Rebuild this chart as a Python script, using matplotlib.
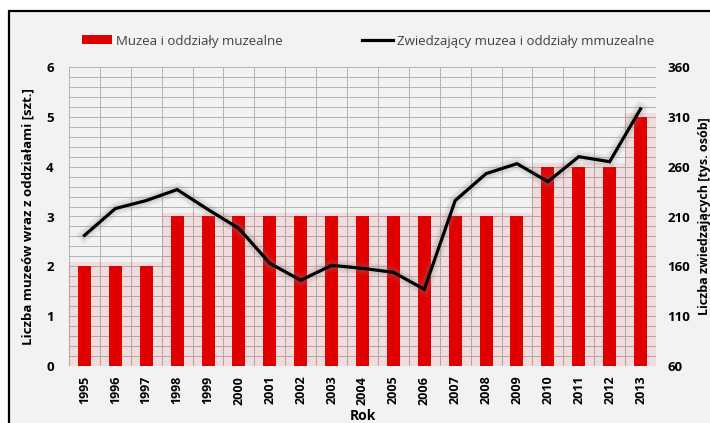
import matplotlib.pyplot as plt
import matplotlib.patheffects as pe
import numpy as np
from matplotlib.lines import Line2D
from matplotlib.patches import Patch, Rectangle

plt.rcParams["font.family"] = ["Open Sans", "DejaVu Sans"]

years = [str(y) for y in range(1995, 2014)]
museums = [2, 2, 2, 3, 3, 3, 3, 3, 3, 3, 3, 3, 3, 3, 3, 4, 4, 4, 5]
visitors = [191, 218, 226, 237, 217, 198, 163, 146, 161, 158, 154, 137,
            226, 253, 263, 245, 270, 265, 318]

bar_color = "#e00000"
bg = "#f2f2f2"
grid_color = "#b3b3b3"

fig = plt.figure(figsize=(7.1, 4.23), dpi=100)
fig.patch.set_facecolor("white")

# chart area box (cut by figure edges like the reference)
fig.patches.append(Rectangle((9 / 710, -0.05), 1.0, 1 - 11 / 423 + 0.05,
                             transform=fig.transFigure, facecolor=bg,
                             edgecolor="black", linewidth=1.6, zorder=-5))

ax = fig.add_axes([69 / 710, 1 - 366 / 423, (656 - 69) / 710, (366 - 67) / 423])
ax.set_facecolor(bg)
x = np.arange(len(years))

# grid
ax.set_xlim(-0.5, len(years) - 0.5)
ax.set_ylim(0, 6)
ax.set_yticks(range(0, 7))
ax.set_yticks(np.arange(0, 6.01, 0.2), minor=True)
ax.set_xticks(x)
ax.set_xticks(np.arange(-0.5, len(years), 0.5), minor=True)
ax.grid(which="both", color=grid_color, linewidth=0.7)
ax.grid(which="major", axis="x", visible=False)
ax.set_axisbelow(True)

# soft glow behind bars
ax.bar(x, [m + 0.08 for m in museums], width=1.0, color=bar_color, alpha=0.09,
       linewidth=0, zorder=2)
ax.bar(x, museums, width=0.42, color=bar_color, linewidth=0, zorder=3)

for s in ax.spines.values():
    s.set_visible(False)
ax.tick_params(which="both", length=0)
ax.set_xticklabels(years, rotation=90, fontsize=9, fontweight="bold")
for t in ax.get_yticklabels():
    t.set_fontsize(9.5)
    t.set_fontweight("bold")
ax.tick_params(axis="y", pad=11)
ax.tick_params(axis="x", pad=7)
ax.set_ylabel("Liczba muzeów wraz z oddziałami [szt.]", fontsize=9.5,
              fontweight="bold", labelpad=8)
ax.set_xlabel("Rok", fontsize=10, fontweight="bold", labelpad=3)

ax2 = ax.twinx()
ax2.set_ylim(60, 360)
ax2.set_yticks(range(60, 361, 50))
line, = ax2.plot(x, visitors, color="black", linewidth=2.3, zorder=5,
                 solid_joinstyle="miter")
line.set_path_effects([pe.Stroke(linewidth=9, foreground="gray", alpha=0.12),
                       pe.Stroke(linewidth=5.5, foreground="gray", alpha=0.15),
                       pe.Normal()])
for s in ax2.spines.values():
    s.set_visible(False)
ax2.tick_params(length=0, pad=8)
for t in ax2.get_yticklabels():
    t.set_fontsize(9.5)
    t.set_fontweight("bold")
ax2.set_ylabel("Liczba zwiedzających [tys. osób]", fontsize=9,
               fontweight="bold")
ax2.yaxis.set_label_coords(698 / 710, 1 - 216 / 423, transform=fig.transFigure)

handles = [Patch(facecolor=bar_color, label="Muzea i oddziały muzealne"),
           Line2D([], [], color="black", linewidth=2.3,
                  label="Zwiedzający muzea i oddziały mmuzealne")]
leg = fig.legend(handles=handles, loc="center", ncol=2,
                 bbox_to_anchor=(368 / 710, 1 - 41 / 423), frameon=False,
                 fontsize=9.5, columnspacing=6, handlelength=2.3,
                 handletextpad=0.3)
for t in leg.get_texts():
    t.set_color("#404040")

fig.savefig("out.png", dpi=100, facecolor="white")
